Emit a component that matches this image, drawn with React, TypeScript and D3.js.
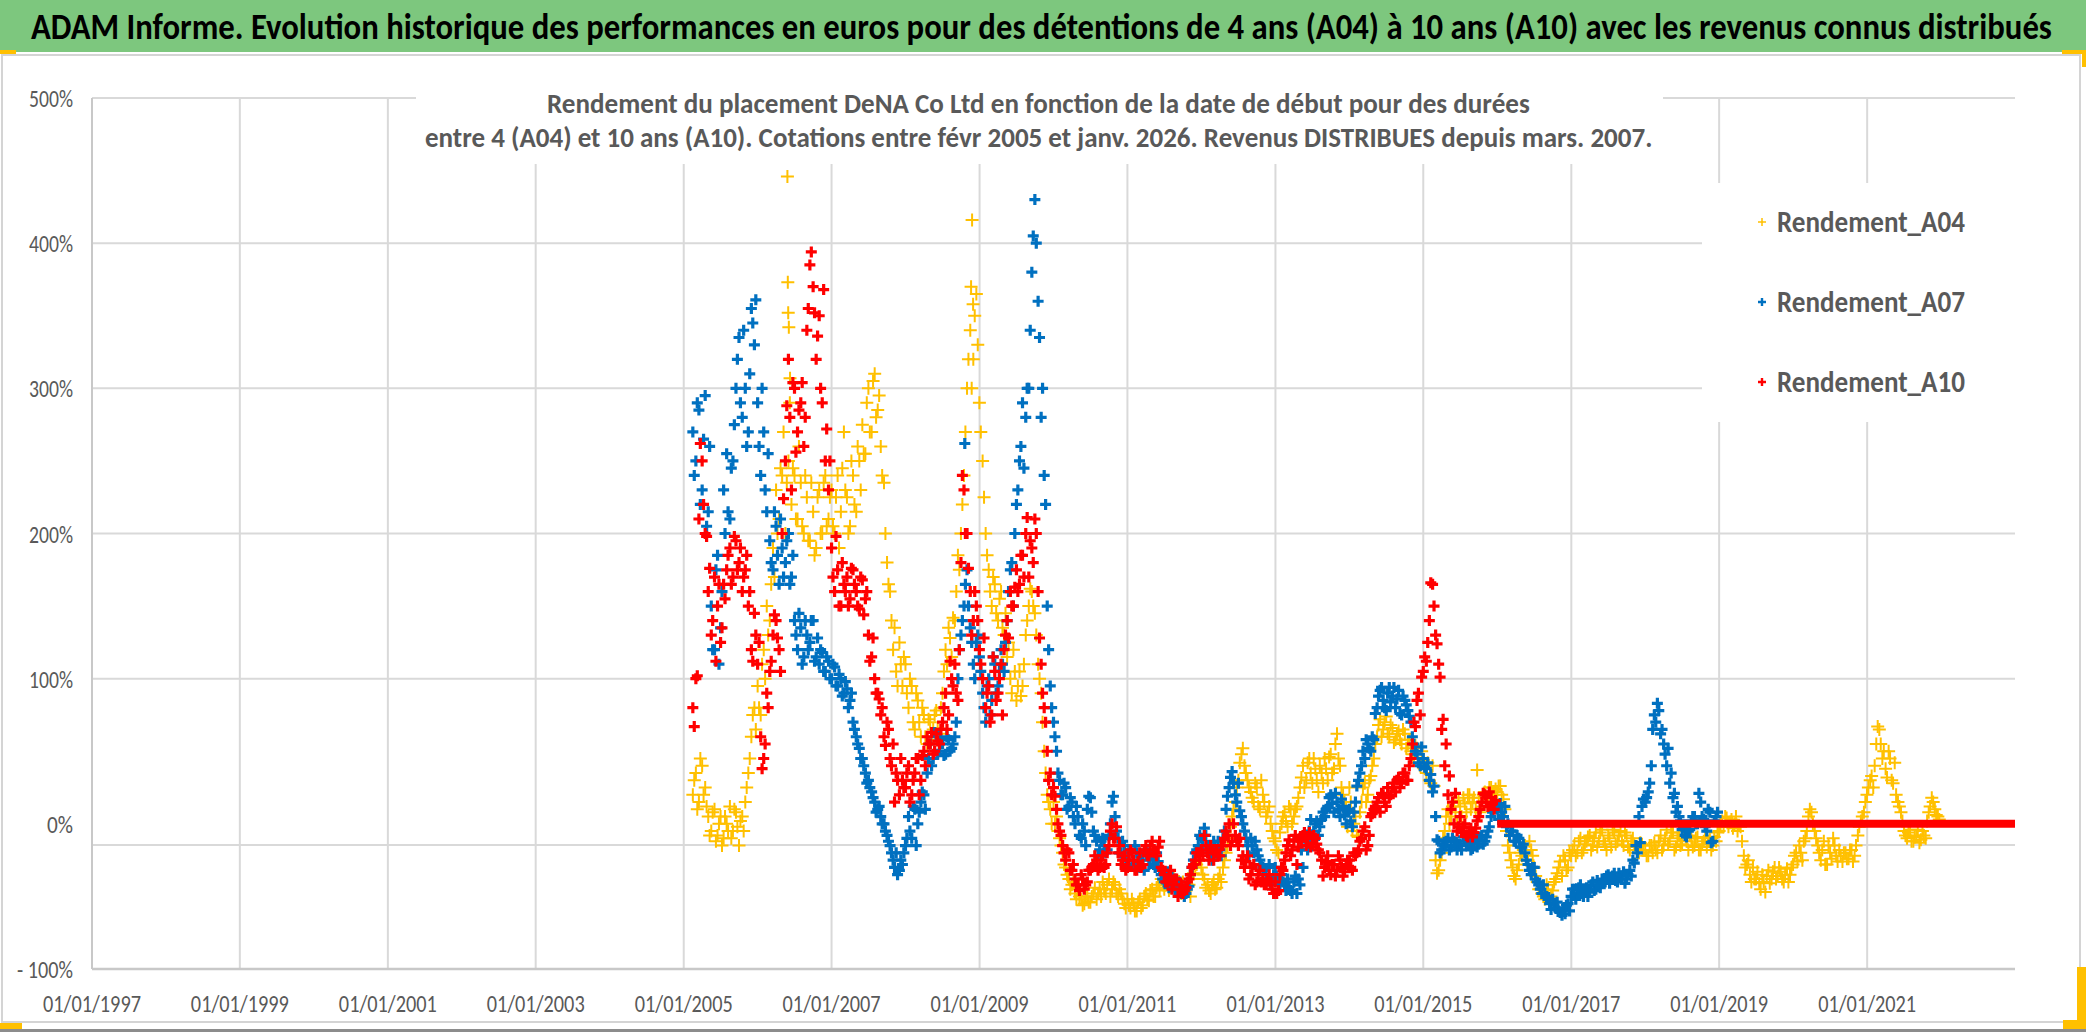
import { useEffect, useRef } from "react";
import * as d3 from "d3";

// axis ticks
const yTicks = [5, 4, 3, 2, 1, 0, -1];
const yTickLabels = ["500%", "400%", "300%", "200%", "100%", "0%", "- 100%"];
const gridValues = [5, 4, 3, 2, 1, -0.145];
const xTickYears = [1997, 1999, 2001, 2003, 2005, 2007, 2009, 2011, 2013, 2015, 2017, 2019, 2021];

// returns in %, one value every half month from mid-feb 2005,
// and a second reading a week later (other side of the daily cloud)
const seriesStart = "2005-02-15";
const secondStart = "2005-02-22";
const stepDays = 365.25 / 24;

const a04 = [
  /*2005*/ 20, 35, 15, 40, 25, 5, -5, 10, -8, 5, -10, 0, 12, -5, 8, -15, 5, 15, 35, 60, 80,
  /*2006*/ 95, 75, 120, 150, 140, 190, 230, 210, 240, 200, 250, 220, 240, 210, 235, 200, 225, 195, 215, 190, 230, 200, 240, 210,
  /*2007*/ 230, 200, 240, 215, 270, 225, 205, 240, 215, 250, 275, 255, 300, 270, 310, 285, 260, 235, 180, 160, 120, 105, 125, 95,
  /*2008*/ 110, 80, 95, 65, 85, 60, 75, 55, 70, 65, 78, 62, 90, 120, 135, 115, 140, 185, 200, 240, 300, 340, 320, 365,
  /*2009*/ 290, 250, 200, 175, 150, 165, 140, 160, 130, 115, 100, 120, 85, 105, 95, 130, 150, 160, 145, 110, 90, 50, 20, 10,
  /*2010*/ 15, 5, -10, -20, -30, -38, -42, -48, -45, -52, -55, -50, -54, -48, -52, -45, -40, -48, -38, -45, -42, -50, -48, -55,
  /*2011*/ -52, -58, -55, -60, -52, -56, -48, -53, -45, -50, -42, -38, -45, -40, -44, -36, -42, -45, -40, -46, -42, -38, -30, -25,
  /*2012*/ -30, -38, -42, -48, -40, -44, -35, -30, -20, -10, 5, 15, 30, 48, 40, 30, 22, 15, 25, 10, 20, 5, 12, -5,
  /*2013*/ -12, -20, 0, 8, -2, 10, 5, 12, 25, 40, 30, 45, 28, 38, 22, 35, 45, 30, 48, 38, 62, 40, 20, 10,
  /*2014*/ 25, -5, 5, -9, 15, 28, 20, 33, 45, 60, 72, 65, 74, 60, 66, 58, 64, 55, 62, 55, 50, 45, 52, 40,
  /*2015*/ 44, 35, 30, 40, -25, -32, -20, -5, 10, 5, 15, 0, 12, 18, 8, 20, 15, 10, 18, 12, 22, 18, 25, 20,
  /*2016*/ 22, 26, 17, -5, -20, -30, -38, -28, -22, -15, -25, -18, -30, -40, -45, -50, -42, -52, -46, -38, -30, -36, -25, -30,
  /*2017*/ -22, -15, -20, -10, -18, -12, -8, -15, -6, -12, -4, -14, -8, -16, -6, -12, -5, -15, -8, -18, -10, -16, -20, -14,
  /*2018*/ -18, -22, -15, -13, -20, -8, -15, -4, -12, -6, -16, -8, -14, -5, -18, -10, -15, -9, -18, -12, -16, -10, -15, -12,
  /*2019*/ -5, 2, 5, -2, 3, 0, -5, -2, -22, -28, -35, -30, -38, -41, -35, -47, -32, -38, -30, -36, -33, -40, -31, -35,
  /*2020*/ -28, -20, -15, -25, -10, 5, 8, -5, -15, -25, -12, -28, -20, -10, -22, -18, -26, -20, -24, -18, -22, -8, 2, 8,
  /*2021*/ 20, 30, 25, 55, 65, 45, 38, 50, 30, 42, 15, 8, -5, -10, -4, -12, -8, -13, -5, -10, 8, 18, 10, 5,
];
const a04Second = [
  /*2005*/ 30, 10, 45, 20, 12, -8, 8, -12, 0, -15, 5, -5, -10, 10, -2, 2, -5, 25, 45, 75, 65,
  /*2006*/ 80, 110, 100, 130, 165, 170, 200, 245, 270, 235, 290, 245, 210, 260, 205, 240, 195, 235, 185, 225, 200, 235, 205, 225,
  /*2007*/ 205, 225, 190, 245, 230, 200, 250, 220, 260, 230, 255, 290, 270, 305, 280, 295, 240, 200, 165, 140, 135, 95, 110, 115,
  /*2008*/ 90, 100, 70, 90, 70, 80, 60, 72, 58, 75, 66, 80, 105, 110, 128, 142, 160, 175, 220, 270, 320, 300, 350, 330,
  /*2009*/ 270, 225, 185, 160, 170, 145, 155, 135, 145, 125, 90, 105, 95, 88, 110, 140, 162, 150, 130, 100, 70, 35, 15, 0,
  /*2010*/ 0, -5, -15, -28, -35, -45, -40, -52, -50, -56, -50, -54, -50, -44, -48, -50, -45, -42, -50, -40, -48, -45, -52, -58,
  /*2011*/ -56, -52, -60, -54, -58, -50, -52, -46, -50, -44, -46, -40, -42, -46, -38, -44, -40, -48, -44, -42, -50, -34, -28, -20,
  /*2012*/ -35, -44, -46, -42, -45, -38, -40, -25, -15, -2, 10, 25, 42, 52, 35, 25, 18, 28, 12, 30, 15, 8, 0, -10,
  /*2013*/ -18, -6, 5, 2, 12, 0, 10, 18, 32, 25, 42, 35, 45, 30, 40, 28, 38, 46, 35, 55, 45, 25, 15, -2,
  /*2014*/ 15, 0, -8, 8, 25, 15, 30, 40, 55, 68, 60, 70, 62, 68, 56, 62, 58, 65, 52, 58, 48, 54, 42, 50,
  /*2015*/ 38, 42, 28, 26, -34, -25, -10, 5, 0, 12, 8, 16, 5, 14, 20, 10, 18, 37, 8, 20, 15, 25, 20, 24,
  /*2016*/ 26, 20, 10, -15, -25, -36, -32, -20, -18, -25, -12, -22, -36, -45, -48, -52, -45, -50, -40, -34, -26, -22, -32, -20,
  /*2017*/ -18, -22, -12, -20, -14, -9, -18, -10, -16, -6, -12, -18, -10, -4, -14, -8, -12, -6, -16, -12, -14, -20, -13, -18,
  /*2018*/ -22, -15, -20, -18, -12, -18, -10, -14, -6, -18, -10, -15, -4, -12, -8, -16, -10, -18, -14, -9, -12, -18, -9, -6,
  /*2019*/ 0, -2, 4, 1, -3, 5, -1, -12, -30, -25, -40, -38, -33, -45, -40, -36, -41, -33, -38, -30, -38, -35, -40, -30,
  /*2020*/ -22, -26, -20, -12, -5, 10, 0, -10, -20, -18, -28, -15, -24, -15, -26, -22, -20, -24, -18, -26, -15, -2, 5, 15,
  /*2021*/ 25, 33, 40, 67, 55, 50, 32, 45, 28, 20, 12, 2, -8, -6, -12, -9, -4, -11, -8, 2, 12, 15, 6, 3,
];

const a07 = [
  /*2005*/ 270, 250, 285, 230, 295, 215, 150, 120, 185, 135, 230, 255, 210, 250, 300, 335, 280, 300, 270, 355, 330,
  /*2006*/ 290, 240, 270, 215, 195, 175, 205, 165, 190, 180, 200, 170, 140, 120, 135, 115, 130, 125, 140, 115, 110, 118, 105, 112,
  /*2007*/ 100, 108, 95, 100, 90, 93, 85, 70, 60, 52, 45, 35, 30, 22, 15, 10, 5, 0, -8, -15, -25, -20, -32, -28,
  /*2008*/ -15, 5, -10, 10, 0, 15, 20, 35, 55, 45, 60, 50, 55, 48, 58, 52, 60, 100, 130, 150, 175, 135, 110, 125,
  /*2009*/ 115, 90, 70, 100, 85, 110, 95, 120, 105, 140, 175, 150, 220, 250, 290, 280, 300, 380, 430, 360, 280, 240, 150, 95,
  /*2010*/ 70, 50, 30, 20, 25, 12, 15, 0, 5, -10, -5, 10, 18, -5, -12, -18, -10, -20, -8, 15, 5, -10, -20, -15,
  /*2011*/ -25, -18, -28, -20, -30, -25, -18, -28, -22, -30, -26, -35, -40, -33, -42, -38, -45, -40, -46, -48, -43, -30, -20, -15,
  /*2012*/ -10, -3, -15, -20, -12, -22, -18, -10, 10, 25, 36, 20, 28, 5, -5, -15, -10, -20, -18, -25, -30, -35, -28, -38,
  /*2013*/ -30, -38, -35, -42, -38, -46, -40, -48, -42, -30, -15, -5, -12, 0, -8, 3, 5, 12, 20, 8, 15, 5, 12, 0,
  /*2014*/ 10, -2, 15, 30, 40, 45, 55, 50, 58, 80, 92, 85, 78, 94, 88, 80, 92, 75, 85, 78, 70, 55, 48, 40,
  /*2015*/ 45, 38, 30, 22, 5, -12, -18, -15, -10, -16, -12, -18, -14, -9, -15, -12, -17, -10, -14, -8, -12, -5, 5, 12,
  /*2016*/ 10, 14, 5, -2, -8, -5, -12, -10, -16, -20, -28, -35, -30, -40, -45, -42, -50, -55, -52, -58, -60, -63, -62, -55,
  /*2017*/ -50, -45, -48, -42, -50, -44, -47, -40, -45, -42, -38, -40, -35, -38, -34, -40, -36, -33, -38, -32, -25, -15, 5, 12,
  /*2018*/ 15, 22, 40, 75, 83, 62, 55, 40, 28, 18, 8, 5, -4, -8, -5, 2, 5, 0, 15, 3, -5, 8, -12, 5,
];
const a07Second = [
  /*2005*/ 240, 290, 220, 265, 205, 260, 120, 175, 110, 160, 200, 215, 245, 275, 320, 290, 340, 260, 310, 345, 361,
  /*2006*/ 260, 300, 230, 255, 180, 215, 185, 210, 170, 195, 165, 185, 130, 145, 110, 140, 120, 140, 112, 128, 120, 105, 115, 100,
  /*2007*/ 110, 95, 103, 88, 98, 80, 90, 65, 55, 45, 40, 28, 25, 18, 8, 12, 0, -5, -12, -20, -30, -35, -25, -20,
  /*2008*/ -10, -5, 12, -15, 8, 22, 10, 45, 40, 63, 48, 58, 47, 60, 50, 55, 70, 120, 140, 165, 150, 125, 100, 130,
  /*2009*/ 105, 80, 95, 75, 115, 90, 105, 110, 125, 160, 180, 200, 230, 260, 245, 300, 340, 405, 400, 335, 300, 220, 120, 80,
  /*2010*/ 60, 35, 20, 28, 10, 18, 5, 12, -8, 0, -15, 19, 8, -8, -22, -12, -15, -18, 0, 19, -5, -20, -12, -25,
  /*2011*/ -20, -29, -15, -25, -22, -32, -20, -24, -28, -20, -32, -38, -35, -44, -36, -46, -42, -48, -50, -45, -35, -25, -18, -8,
  /*2012*/ -15, -8, -20, -25, -16, -12, -22, -5, 19, 32, 28, 15, 9, 0, -10, -22, -15, -12, -22, -28, -32, -38, -42, -35,
  /*2013*/ -36, -42, -40, -46, -44, -48, -36, -38, -18, -10, -18, 3, -5, 2, -2, 8, 10, 18, 14, 21, 10, 17, 6, 8,
  /*2014*/ 2, 8, 26, 35, 50, 58, 52, 60, 76, 88, 94, 80, 90, 84, 94, 86, 76, 88, 82, 74, 60, 50, 42, 53,
  /*2015*/ 39, 42, 34, 26, -11, -20, -14, -12, -18, -10, -15, -14, -18, -12, -10, -18, -12, -16, -9, -14, -9, -2, 8, 14,
  /*2016*/ 3, 8, 12, 0, -5, -12, -8, -16, -14, -25, -32, -30, -38, -42, -48, -48, -52, -59, -56, -54, -61, -58, -56, -60,
  /*2017*/ -45, -52, -44, -48, -46, -50, -42, -46, -39, -44, -40, -36, -41, -36, -39, -34, -38, -41, -35, -36, -27, -20, -13, 17,
  /*2018*/ 18, 28, 65, 70, 78, 65, 48, 52, 35, 21, 12, 2, -2, -9, -4, 5, 0, 21, 5, -2, 10, -13, 2, 8,
];

const a10 = [
  /*2005*/ 80, 100, 210, 250, 200, 160, 130, 170, 150, 125, 165, 175, 190, 170, 195, 180, 160, 175, 150, 120, 145,
  /*2006*/ 110, 60, 45, 90, 105, 130, 140, 120, 200, 250, 320, 230, 300, 270, 290, 260, 340, 385, 370, 320, 350, 290, 250, 230,
  /*2007*/ 190, 160, 175, 150, 165, 170, 155, 175, 160, 148, 168, 155, 130, 115, 100, 90, 75, 60, 70, 45, 55, 35, 20, 30,
  /*2008*/ 25, 40, 20, 35, 45, 30, 50, 60, 55, 48, 62, 55, 70, 90, 75, 100, 110, 85, 180, 230, 200, 160, 140, 150,
  /*2009*/ 120, 100, 80, 95, 75, 105, 90, 110, 120, 140, 160, 150, 175, 165, 185, 200, 170, 190, 210, 160, 110, 80, 50, 35,
  /*2010*/ 25, 10, -5, -15, -25, -20, -32, -38, -42, -35, -45, -40, -32, -28, -25, -30, -22, -28, -15, 0, -10, -20, -28, -22,
  /*2011*/ -30, -18, -25, -32, -20, -28, -15, -22, -12, -20, -16, -30, -35, -40, -32, -42, -38, -45, -48, -44, -38, -30, -25, -20,
  /*2012*/ -18, -8, -20, -15, -25, -18, -22, -15, -5, 0, -12, -8, -15, -25, -30, -22, -35, -28, -40, -32, -38, -42, -35, -45,
  /*2013*/ -40, -46, -30, -25, -15, -22, -12, -28, -10, -8, -15, -6, -14, -10, -18, -25, -30, -22, -35, -28, -32, -25, -36, -28,
  /*2014*/ -25, -32, -22, -18, -10, -2, -15, 5, 10, 15, 8, 20, 12, 18, 25, 22, 32, 28, 35, 30, 45, 70, 85, 75,
  /*2015*/ 105, 112, 140, 165, 130, 110, 65, 40, 20, 10, 0, -5, 5, -2, -8, -5, -9, -3, 5, 15, 20, 12, 18, 10,
];
const a10Second = [
  /*2005*/ 67, 102, 262, 220, 198, 176, 140, 112, 165, 135, 155, 185, 165, 198, 175, 190, 170, 185, 160, 112, 130,
  /*2006*/ 125, 38, 55, 80, 112, 144, 128, 105, 224, 288, 280, 304, 256, 285, 304, 280, 355, 394, 352, 336, 300, 368, 272, 250,
  /*2007*/ 170, 198, 150, 180, 160, 150, 176, 165, 150, 170, 144, 160, 112, 128, 90, 86, 80, 54, 65, 40, 15, 30, 45, 25,
  /*2008*/ 35, 15, 30, 45, 20, 47, 40, 55, 63, 50, 57, 65, 80, 65, 112, 95, 90, 120, 240, 200, 176, 130, 160, 140,
  /*2009*/ 110, 128, 90, 70, 115, 85, 100, 75, 130, 128, 150, 163, 160, 185, 170, 211, 195, 180, 200, 128, 90, 70, 30, 20,
  /*2010*/ 19, 0, -8, -20, -18, -32, -28, -42, -46, -38, -42, -32, -30, -22, -32, -25, -30, -20, -5, -10, -2, -15, -25, -32,
  /*2011*/ -25, -20, -32, -26, -30, -18, -22, -15, -18, -22, -12, -32, -40, -36, -45, -38, -50, -42, -46, -40, -35, -28, -20, -25,
  /*2012*/ -22, -15, -25, -18, -20, -22, -15, -10, -8, -15, 0, -12, -10, -22, -26, -38, -30, -42, -35, -40, -42, -38, -40, -48,
  /*2013*/ -48, -35, -32, -20, -11, -18, -8, -16, -12, -6, -10, -16, -8, -14, -20, -36, -26, -32, -28, -36, -22, -30, -33, -25,
  /*2014*/ -30, -20, -20, -12, -5, -18, -8, 7, 12, 18, 21, 15, 25, 20, 28, 30, 25, 35, 30, 40, 55, 67, 90, 101,
  /*2015*/ 115, 125, 166, 150, 124, 101, 72, 55, 33, 15, 21, -2, -6, 0, -9, -3, -6, 2, 10, 21, 15, 22, 14, 16,
];

// isolated points standing out of the clouds
const a04Spikes: [string, number][] = [
  ["2006-05-28", 446], ["2006-05-30", 373], ["2006-06-01", 352], ["2006-06-04", 342], ["2006-06-10", 307],
  ["2008-11-25", 416], ["2008-11-20", 370], ["2008-11-30", 358],
];
const a07Spikes: [string, number][] = [["2008-10-20", 262]];

// A10 has no value after 2016: Excel plots those as 0
const a10ZeroSpan = ["2016-01-01", "2023-01-01"];

const seriesNames = ["Rendement_A04", "Rendement_A07", "Rendement_A10"];
const colors = ["#FFC000", "#0070C0", "#FF0000"];

const FONT = "Carlito, Calibri, 'Open Sans', sans-serif";
const GREY = "#595959";

export default function App() {
  const svgRef = useRef(null);

  useEffect(() => {
    if (!svgRef.current) return;
    const width = 2086;
    const height = 1032;
    const svg = d3.select(svgRef.current);
    svg.selectAll("*").remove();
    svg.attr("width", width).attr("height", height).attr("viewBox", `0 0 ${width} ${height}`);

    const x = d3
      .scaleTime()
      .domain([new Date(1997, 0, 1), new Date(2023, 0, 1)])
      .range([92, 2015]);
    const y = d3.scaleLinear().domain([-1, 5]).range([969, 98]);

    const dateFrom = (s) => {
      const start = new Date(s);
      return (i) => d3.timeDay.offset(start, Math.round(i * stepDays));
    };

    // text squeezed horizontally to the width it has in the picture
    const fitText = (str, tx, ty, w, size, opts: any = {}) => {
      const t = svg
        .append("text")
        .attr("text-anchor", opts.anchor || "start")
        .attr("font-family", FONT)
        .attr("font-size", size)
        .attr("font-weight", opts.weight || "normal")
        .attr("fill", opts.fill || GREY)
        .text(str);
      const natural = t.node().getComputedTextLength() || w;
      t.attr("transform", `translate(${tx},${ty}) scale(${w / natural},1)`);
      return t;
    };

    svg.append("rect").attr("width", width).attr("height", height).attr("fill", "white");

    // banner
    svg.append("rect").attr("x", 0).attr("y", 0).attr("width", width).attr("height", 52).attr("fill", "#7DC77E");
    fitText(
      "ADAM Informe. Evolution historique des performances en euros pour des détentions de 4 ans (A04) à 10 ans (A10) avec les revenus connus distribués",
      31,
      39,
      2022,
      36,
      { weight: "bold", fill: "black" }
    );

    // chart frame
    svg
      .append("rect")
      .attr("x", 2)
      .attr("y", 55)
      .attr("width", 2078)
      .attr("height", 967)
      .attr("fill", "none")
      .attr("stroke", "#d4d4d4")
      .attr("stroke-width", 2);
    svg.append("rect").attr("x", 0).attr("y", 1029).attr("width", width).attr("height", 3).attr("fill", "#8c8c8c");

    // gridlines
    const [x0, x1] = x.range();
    gridValues.forEach((v) => {
      svg
        .append("line")
        .attr("x1", x0)
        .attr("x2", x1)
        .attr("y1", y(v))
        .attr("y2", y(v))
        .attr("stroke", "#d9d9d9")
        .attr("stroke-width", 2);
    });
    xTickYears.slice(1).forEach((yr) => {
      const xp = x(new Date(yr, 0, 1));
      svg
        .append("line")
        .attr("x1", xp)
        .attr("x2", xp)
        .attr("y1", y(5))
        .attr("y2", y(-1))
        .attr("stroke", "#d9d9d9")
        .attr("stroke-width", 2);
    });
    // axes lines
    svg
      .append("line")
      .attr("x1", x0)
      .attr("x2", x1)
      .attr("y1", y(-1))
      .attr("y2", y(-1))
      .attr("stroke", "#c8c8c8")
      .attr("stroke-width", 2.5);
    svg
      .append("line")
      .attr("x1", x0)
      .attr("x2", x0)
      .attr("y1", y(5))
      .attr("y2", y(-1))
      .attr("stroke", "#c8c8c8")
      .attr("stroke-width", 2);

    // white boxes of chart title and legend
    svg.append("rect").attr("x", 416).attr("y", 60).attr("width", 1247).attr("height", 104).attr("fill", "white");
    svg.append("rect").attr("x", 1702).attr("y", 183).attr("width", 315).attr("height", 239).attr("fill", "white");

    // y labels
    yTicks.forEach((v, i) => {
      const label = yTickLabels[i];
      fitText(label, 73, y(v) + 9, label.length === 2 ? 26 : label.length === 4 ? 44 : 56, 24, { anchor: "end" });
    });

    // x labels
    const fmt = d3.timeFormat("%d/%m/%Y");
    xTickYears.forEach((yr) => {
      const d = new Date(yr, 0, 1);
      fitText(fmt(d), x(d), 1012, 98, 25, { anchor: "middle" });
    });

    // chart title
    fitText("Rendement du placement DeNA Co Ltd en fonction de la date de début pour des durées", 547, 113, 983, 28, {
      weight: "bold",
    });
    fitText(
      "entre 4 (A04) et 10 ans (A10). Cotations entre févr 2005 et janv. 2026. Revenus DISTRIBUES depuis mars. 2007.",
      425,
      147,
      1228,
      28,
      { weight: "bold" }
    );

    const plus = (s) => `M${-s},0H${s}M0,${-s}V${s}`;
    const styles = [
      { size: 6.5, width: 2 },
      { size: 5.5, width: 3.2 },
      { size: 5.5, width: 3.2 },
    ];

    const drawSeries = (first, second, spikes, idx) => {
      const g = svg.append("g").attr("stroke", colors[idx]).attr("stroke-width", styles[idx].width).attr("fill", "none");
      const d1 = dateFrom(seriesStart);
      const d2 = dateFrom(secondStart);
      const pts = first.map((v, i) => [d1(i), v]);
      second.forEach((v, i) => pts.push([d2(i), v]));
      spikes.forEach(([d, v]) => pts.push([new Date(d), v]));
      pts.sort((a, b) => a[0] - b[0]);
      g.selectAll("path")
        .data(pts)
        .join("path")
        .attr("d", plus(styles[idx].size))
        .attr("transform", (p) => `translate(${x(p[0])},${y(p[1] / 100)})`);
    };

    drawSeries(a04, a04Second, a04Spikes, 0);
    drawSeries(a07, a07Second, a07Spikes, 1);
    drawSeries(a10, a10Second, [], 2);

    svg
      .append("path")
      .datum(a10ZeroSpan.map((d) => [new Date(d), 0]))
      .attr("d", d3.line().x((p) => x(p[0])).y((p) => y(p[1])))
      .attr("stroke", colors[2])
      .attr("stroke-width", 8)
      .attr("fill", "none");

    // legend
    seriesNames.forEach((name, i) => {
      const cy = 222 + i * 80;
      svg
        .append("path")
        .attr("d", plus(4))
        .attr("transform", `translate(1762,${cy})`)
        .attr("stroke", colors[i])
        .attr("stroke-width", i === 0 ? 1.5 : 2.4)
        .attr("fill", "none");
      fitText(name, 1777, cy + 10, 188, 30, { weight: 600 });
    });

    // yellow selection handles in the corners
    const handles = [
      [0, 50, 16, 4],
      [2062, 50, 24, 4],
      [2082, 50, 4, 17],
      [0, 1023, 22, 6],
      [2077, 967, 9, 62],
      [2063, 1020, 23, 9],
    ];
    handles.forEach(([hx, hy, hw, hh]) => {
      svg.append("rect").attr("x", hx).attr("y", hy).attr("width", hw).attr("height", hh).attr("fill", "#FFC000");
    });
  }, []);

  return <svg ref={svgRef} style={{ position: "absolute", left: 0, top: 0, display: "block" }} />;
}
